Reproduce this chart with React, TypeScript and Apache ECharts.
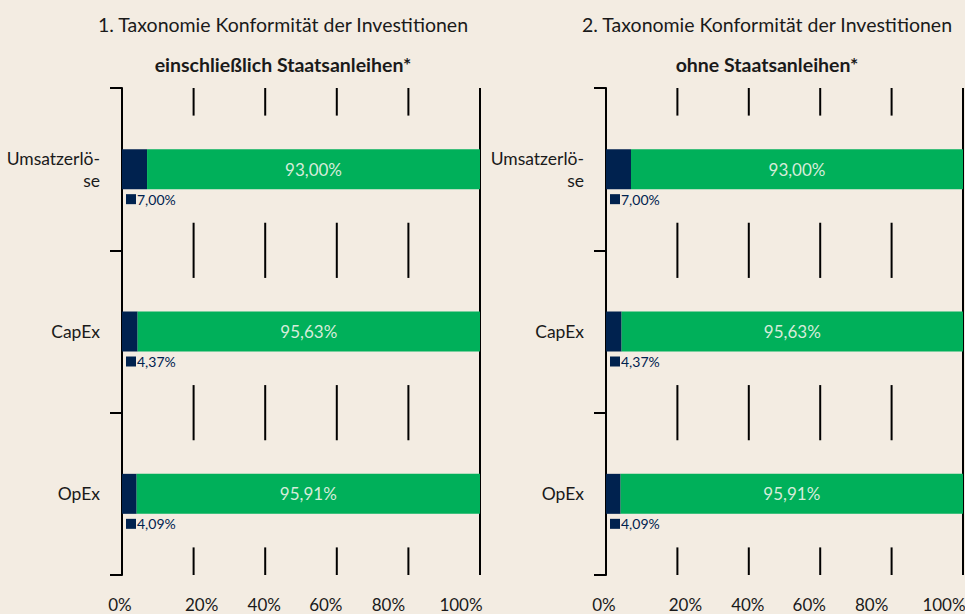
import React, { useEffect, useRef } from "react";
import * as echarts from "echarts";

const categories = ["Umsatzerlö-\nse", "CapEx", "OpEx"];
const inclNotAligned = [7.0, 4.37, 4.09];
const inclAligned = [93.0, 95.63, 95.91];
const exclNotAligned = [7.0, 4.37, 4.09];
const exclAligned = [93.0, 95.63, 95.91];
const xTicks = [0, 20, 40, 60, 80, 100];
const gridTicks = [20, 40, 60, 80, 100];
const titles = ["1. Taxonomie Konformität der Investitionen", "2. Taxonomie Konformität der Investitionen"];
const subtitles = ["einschließlich Staatsanleihen*", "ohne Staatsanleihen*"];

const NAVY = "#00224F";
const GREEN = "#00B05A";
const BG = "#F3ECE2";
const FONT = "Lato";
const labelShift = [-2, 8, -1, -11, -20, -19];

const fmt = (v: number) => v.toFixed(2).replace(".", ",") + "%";

export default function App() {
  const ref = useRef<HTMLDivElement>(null);
  useEffect(() => {
    document.body.style.margin = "0";
    const chart = echarts.init(ref.current!, null, { renderer: "svg" });

    const rich: any = {};
    labelShift.forEach((s, i) => {
      rich["t" + i] = {
        fontFamily: FONT,
        fontSize: 17,
        lineHeight: 18,
        color: "#1a1a1a",
        padding: s >= 0 ? [0, 0, 0, 2 * s] : [0, -2 * s, 0, 0],
      };
    });

    const boundaries: number[][] = [];
    gridTicks.forEach((t) => {
      if (t === 100) boundaries.push([t, -1]);
      else [0, 1, 2, 3].forEach((b) => boundaries.push([t, b]));
    });

    const grids = [
      { left: 122, right: 485, top: 88, bottom: 39, outerBoundsMode: "none", containLabel: false },
      { left: 606, right: 2, top: 88, bottom: 39, outerBoundsMode: "none", containLabel: false },
    ];
    const centers = [278, 762];
    const panels = [
      [inclNotAligned, inclAligned],
      [exclNotAligned, exclAligned],
    ];

    // two label layers per grid: layer 0 shows all but the last tick label, layer 1 only the last
    const makeX = (gridIndex: number, layer: number) => ({
      type: "value",
      gridIndex,
      position: "bottom",
      offset: 0,
      min: 0,
      max: 100,
      interval: 20,
      axisLine: { show: false },
      axisTick: { show: false },
      splitLine: { show: false },
      axisLabel: {
        margin: 20,
        hideOverlap: false,
        formatter: (v: number) => {
          const idx = xTicks.indexOf(v);
          const isLast = idx === xTicks.length - 1;
          if ((layer === 0) === isLast) return "";
          return "{t" + idx + "|" + v + "%}";
        },
        rich,
      },
    });

    const option: any = {
      animation: false,
      backgroundColor: BG,
      title: [0, 1].flatMap((i) => [
        {
          text: titles[i],
          left: centers[i],
          top: 9,
          textAlign: "center",
          textStyle: { fontFamily: FONT, fontSize: 19.5, fontWeight: "normal", color: "#1a1a1a" },
        },
        {
          text: subtitles[i],
          left: centers[i],
          top: 49,
          textAlign: "center",
          textStyle: { fontFamily: FONT, fontSize: 19.5, fontWeight: "bold", color: "#1a1a1a" },
        },
      ]),
      grid: grids,
      xAxis: [makeX(0, 0), makeX(0, 1), makeX(1, 0), makeX(1, 1)],
      yAxis: [0, 1].map((i) => ({
        type: "category",
        gridIndex: i,
        data: categories,
        inverse: true,
        axisLine: { show: true, lineStyle: { color: "#000", width: 2 } },
        axisTick: { show: true, length: 12, lineStyle: { color: "#000", width: 2 } },
        axisLabel: {
          margin: 22,
          fontFamily: FONT,
          fontSize: 17.5,
          color: "#1a1a1a",
          lineHeight: 22,
          padding: [14, 0, 0, 0],
        },
      })),
      series: [0, 1].flatMap((i) => [
        {
          type: "custom",
          xAxisIndex: 2 * i,
          yAxisIndex: i,
          silent: true,
          z: 1,
          data: boundaries,
          renderItem: (params: any, api: any) => {
            const xv = api.value(0);
            const b = api.value(1);
            const cs = params.coordSys;
            const px = api.coord([xv, 0])[0];
            let y1: number, y2: number;
            if (b < 0) {
              y1 = cs.y;
              y2 = cs.y + cs.height;
            } else {
              const c0 = api.coord([xv, 0])[1];
              const bandH = api.size([0, 1])[1];
              const y = c0 - bandH / 2 + b * bandH;
              const half = bandH * 0.17;
              y1 = Math.max(y - half, cs.y);
              y2 = Math.min(y + half, cs.y + cs.height);
            }
            return {
              type: "line",
              shape: { x1: px, y1, x2: px, y2 },
              style: { stroke: "#000", lineWidth: 2 },
            };
          },
        },
        {
          type: "bar",
          xAxisIndex: 2 * i,
          yAxisIndex: i,
          stack: "s" + i,
          barWidth: 40,
          z: 2,
          data: panels[i][0],
          itemStyle: { color: NAVY },
          label: {
            show: true,
            position: [4, 43],
            align: "left",
            verticalAlign: "top",
            formatter: (p: any) => "{sq|}{v|" + fmt(p.value) + "}",
            rich: {
              sq: { width: 10, height: 10, backgroundColor: NAVY },
              v: { fontFamily: FONT, fontSize: 14, color: NAVY, padding: [0, 0, 0, 1] },
            },
          },
        },
        {
          type: "bar",
          xAxisIndex: 2 * i,
          yAxisIndex: i,
          stack: "s" + i,
          barWidth: 40,
          z: 2,
          data: panels[i][1],
          itemStyle: { color: GREEN },
          label: {
            show: true,
            position: "inside",
            fontFamily: FONT,
            fontSize: 17,
            color: "#D6ECDA",
            formatter: (p: any) => fmt(p.value),
          },
        },
      ]),
    };
    chart.setOption(option);
    return () => chart.dispose();
  }, []);
  return (
    <div
      ref={ref}
      style={{ position: "absolute", left: 0, top: 0, width: 965, height: 614, background: BG }}
    />
  );
}
